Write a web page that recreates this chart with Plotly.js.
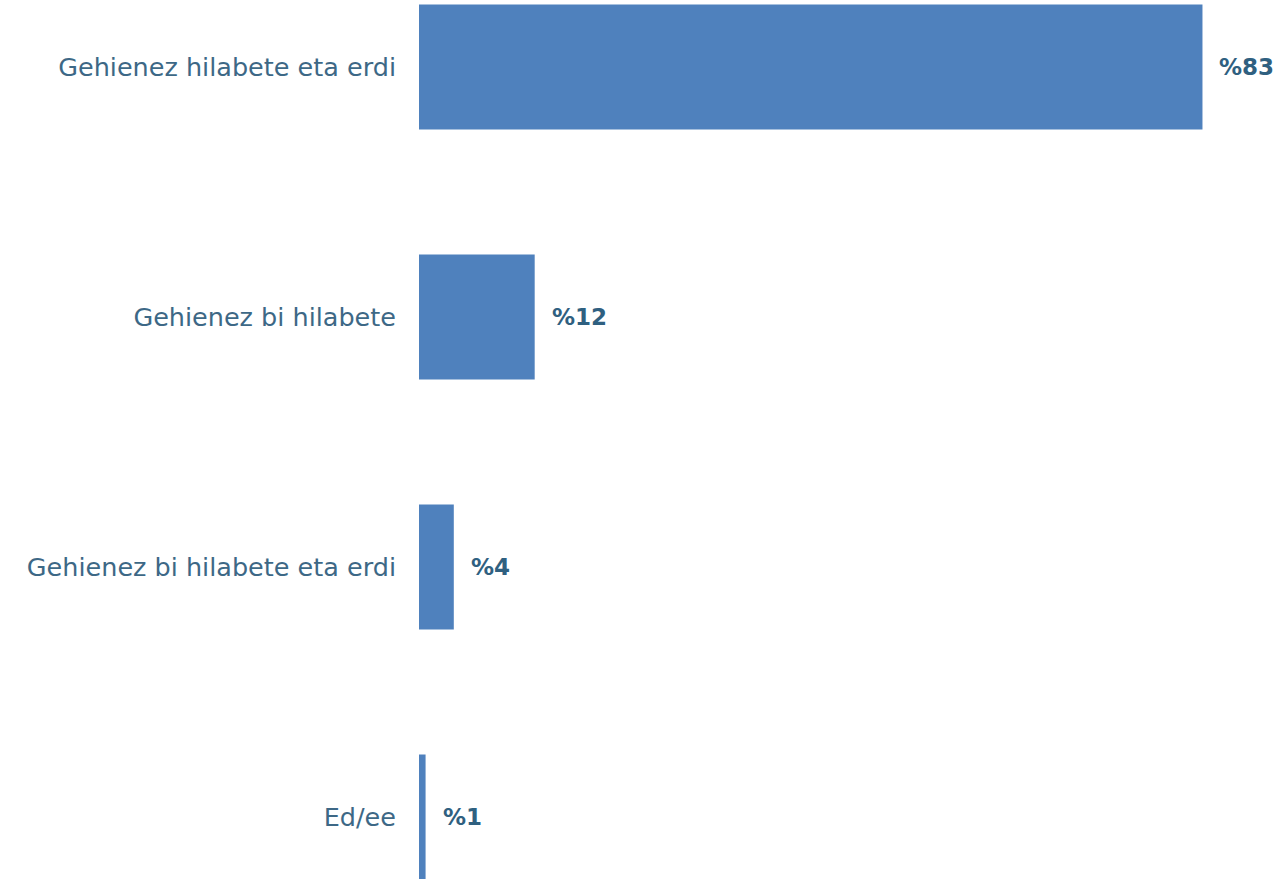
<!DOCTYPE html>
<html>
<head>
<meta charset="utf-8">
<script src="https://cdn.plot.ly/plotly-3.0.1.min.js"></script>
<style>html,body{margin:0;padding:0;background:#fff;}#chart{width:1281px;height:879px;}</style>
</head>
<body>
<div id="chart"></div>
<script>
const categories = ["Gehienez hilabete eta erdi", "Gehienez bi hilabete", "Gehienez bi hilabete eta erdi", "Ed/ee"];
const values = [83.3, 12.3, 3.7, 0.7];
const valueLabels = ["%83", "%12", "%4", "%1"];

const trace = {
  type: "bar",
  orientation: "h",
  x: values,
  y: categories,
  width: 0.5,
  marker: {color: "#4f81bd"},
  hoverinfo: "none",
  cliponaxis: false
};

const annotations = values.map((v, i) => ({
  x: v, y: categories[i], xref: "x", yref: "y",
  text: "<b>" + valueLabels[i] + "</b>",
  showarrow: false, xanchor: "left", yanchor: "middle", xshift: 15,
  font: {family: "'DejaVu Sans', sans-serif", size: 23, color: "#2f6080"}
}));

const layout = {
  width: 1281, height: 879,
  margin: {l: 419, r: 0, t: 0, b: 0},
  paper_bgcolor: "#ffffff", plot_bgcolor: "#ffffff",
  showlegend: false,
  xaxis: {range: [0, 91.65], showgrid: false, zeroline: false, showline: false, showticklabels: false, ticks: ""},
  yaxis: {type: "category", categoryorder: "array", categoryarray: categories,
          range: [3.248, -0.268], showgrid: false, zeroline: false, showline: false,
          ticks: "", ticklabelstandoff: 22,
          tickfont: {family: "'DejaVu Sans', sans-serif", size: 25.5, color: "#3d6886"}},
  annotations: annotations
};

Plotly.newPlot("chart", [trace], layout, {staticPlot: true, displayModeBar: false});
</script>
</body>
</html>
